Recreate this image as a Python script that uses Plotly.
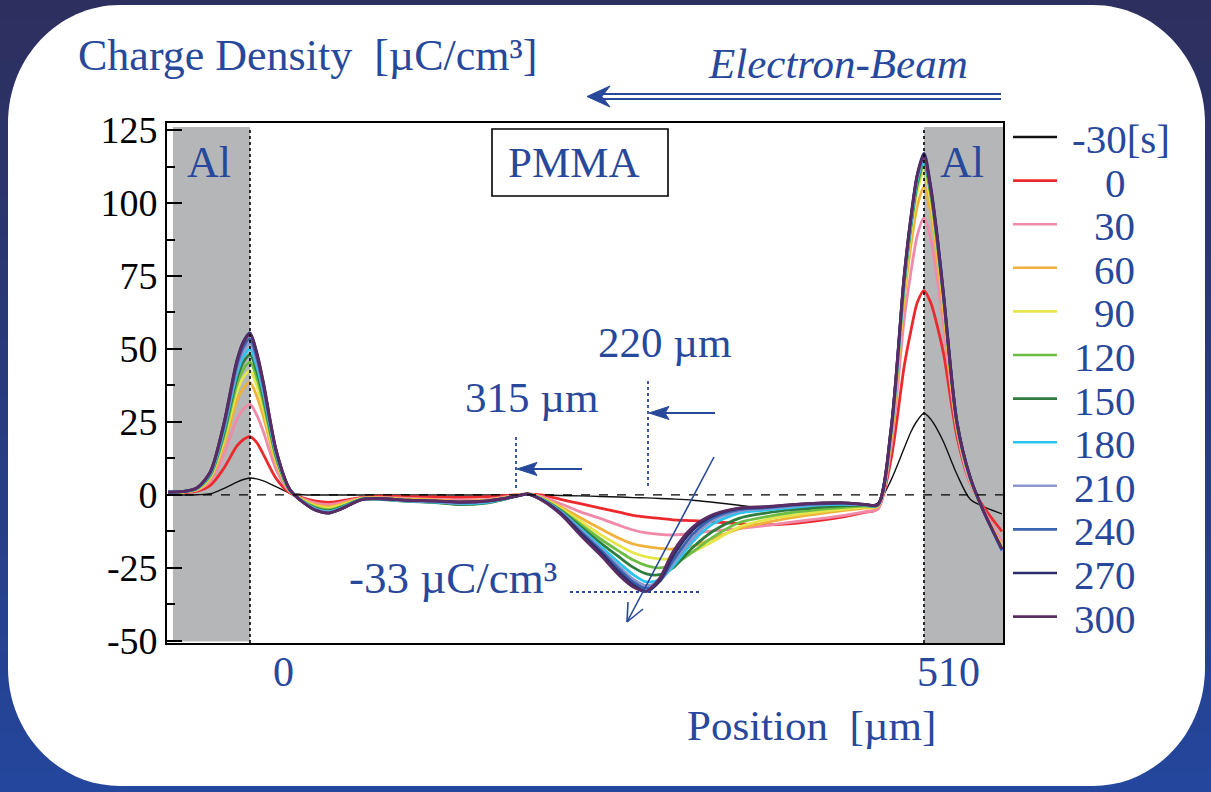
import plotly.graph_objects as go

# ---------------- data ----------------
POSITION_UM = [-62, -50, -40, -30, -20, -10, -5, 0, 5, 10, 20, 30,
               40, 50, 60, 70, 85, 100, 120, 140, 160, 180,
               200, 210, 220, 235, 250, 265, 280, 290, 300, 310,
               320, 335, 350, 370, 390, 410, 430, 450, 465, 475,
               485, 495, 500, 505, 510, 515, 520, 525, 535, 545, 555, 569]

TIME_LABELS = ["-30[s]", "0", "30", "60", "90", "120", "150", "180", "210", "240", "270", "300"]

Q_M30 = [0, 0, 0.1, 0.4, 2.2, 4.4, 5.3, 5.8, 5.5, 4.8, 2.8, 0.7,
         0.1, 0, 0, 0, 0, 0, 0, 0, 0, 0,
         0, 0.1, 0, -0.2, -0.3, -0.5, -0.7, -0.9, -1.0, -1.2,
         -1.4, -1.8, -2.5, -3.5, -4.6, -5.0, -5.0, -4.6, -4.0, -2.8,
         5, 16, 21.5, 25.5, 28, 26, 22.5, 18, 7, -1.5, -4, -6.5]
Q_0 = [0.8, 0.9, 1.3, 3.3, 9, 16.7, 19, 20, 18, 14, 5.5, 0.7,
       -1, -2.1, -2.5, -1.9, -0.8, -0.4, -0.6, -0.7, -0.8, -0.6,
       0, 0.3, 0, -1.5, -3, -4.5, -6, -7, -7.6, -8,
       -8.5, -8.8, -9.2, -9.8, -10.2, -9.8, -8.8, -7.4, -6, -4.8,
       12, 44, 56, 66, 70, 66, 58, 48, 20, 4, -4, -12.5]
Q_30 = [0.9, 1.0, 1.7, 4.7, 13.7, 25.8, 29.4, 31, 27.5, 21.8, 8.5, 1.1,
        -1.3, -2.8, -3.3, -2.5, -1.0, -0.8, -1.2, -1.5, -1.8, -1.5,
        -0.2, 0.4, -0.5, -3, -5.8, -8, -10.5, -12, -13, -13.5,
        -13.7, -13.2, -12.3, -11.5, -10.5, -9.3, -8.2, -7, -5.8, -4.8,
        16, 60, 76, 89, 95, 88, 74, 57, 22, 4, -5, -16]
Q_60 = [0.9, 1.1, 1.9, 5.7, 16.8, 32, 36.5, 38.5, 34, 27, 10.5, 1.4,
        -1.6, -3.4, -4, -3, -1.1, -1.0, -1.4, -1.7, -2.2, -1.8,
        -0.3, 0.4, -0.8, -4, -7.8, -11.5, -15, -16.8, -17.7, -18.3,
        -18.5, -17.5, -15, -11.5, -9.5, -7.8, -6.5, -5.3, -4.5, -4,
        19, 67, 85, 99, 105.5, 97, 81, 62, 23, 5, -5.5, -17.5]
Q_90 = [1.0, 1.1, 2.0, 6.2, 18.4, 35.2, 40.3, 42.5, 37.6, 29.8, 11.5, 1.5,
        -1.8, -3.8, -4.5, -3.4, -1.2, -1.2, -1.7, -2.1, -2.7, -2.2,
        -0.4, 0.4, -1, -4.5, -9, -13.5, -17.5, -19.8, -21.2, -21.9,
        -21.8, -19.5, -16, -11, -8.5, -7, -5.8, -4.8, -4.2, -3.8,
        20, 70, 89, 104, 110.5, 101, 85, 65, 24, 5, -5.5, -18]
Q_120 = [1.0, 1.1, 2.1, 6.6, 19.6, 37.7, 43.1, 45.5, 40.3, 32, 12.3, 1.6,
         -2, -4.2, -5, -3.8, -1.3, -1.5, -2.1, -2.5, -3.2, -2.6,
         -0.6, 0.3, -1.1, -5, -10, -15, -19.5, -22.3, -24.2, -25,
         -24, -19.5, -14.5, -9.5, -7.5, -6, -5, -4.2, -3.8, -3.6,
         20.5, 71.5, 91, 106, 112.5, 103, 86, 66, 24, 5.5, -5.5, -18.5]
Q_150 = [1.0, 1.2, 2.2, 6.9, 20.7, 39.7, 45.5, 48, 42.5, 33.6, 13, 1.7,
         -2.2, -4.6, -5.4, -4, -1.4, -1.6, -2.2, -2.6, -3.3, -2.7,
         -0.6, 0.3, -1.2, -5.3, -10.8, -16.3, -21.5, -24.8, -27, -27.3,
         -25, -18, -12.5, -8, -6.2, -5, -4.2, -3.7, -3.5, -3.5,
         21, 72.5, 92, 107, 114, 104, 87, 67, 24.5, 5.5, -5.5, -18.5]
Q_180 = [1.0, 1.2, 2.3, 7.2, 21.6, 41.4, 47.4, 50, 44.3, 35, 13.5, 1.8,
         -2.3, -4.8, -5.7, -4.2, -1.4, -1.5, -2.1, -2.4, -3.0, -2.5,
         -0.6, 0.3, -1.3, -5.6, -11.5, -17.5, -23.5, -27.3, -29.8, -29,
         -24.5, -16, -10, -6.2, -5.2, -4.3, -3.5, -3.2, -3.4, -3.5,
         21, 73, 92.5, 108, 114.5, 104.5, 87.5, 67, 24.5, 5.5, -5.5, -19]
Q_210 = [1.0, 1.2, 2.4, 7.5, 22.5, 43, 49.3, 52, 46, 36.5, 14, 2,
         -2.4, -5, -5.9, -4.4, -1.5, -1.4, -2.0, -2.3, -2.8, -2.3,
         -0.6, 0.3, -1.4, -5.8, -12, -18.3, -24.8, -28.8, -31, -29.5,
         -23.5, -14.8, -8.8, -5.5, -4.7, -3.9, -3.2, -3.0, -3.3, -3.4,
         21.5, 74, 93.5, 109, 115.5, 105, 88, 67.5, 24.5, 5.5, -5.5, -19]
Q_240 = [1.0, 1.2, 2.4, 7.7, 23, 44.3, 50.7, 53.5, 47.4, 37.5, 14.5, 2,
         -2.4, -5.2, -6.1, -4.5, -1.5, -1.3, -1.9, -2.1, -2.6, -2.1,
         -0.6, 0.3, -1.5, -6, -12.4, -18.8, -25.7, -29.8, -32, -29.5,
         -22.5, -13.5, -8, -5, -4.4, -3.6, -3, -2.9, -3.3, -3.4,
         22, 74.5, 94, 109.5, 116.5, 105.5, 88.5, 68, 25, 6, -5.5, -19]
Q_270 = [1.0, 1.2, 2.5, 8, 24, 46, 52.6, 55.5, 49.1, 39, 15, 2,
         -2.5, -5.3, -6.2, -4.6, -1.5, -1.3, -1.8, -2.0, -2.4, -2.0,
         -0.6, 0.4, -1.5, -6.2, -13, -19.5, -26.8, -30.8, -33, -29.5,
         -21, -12, -7.2, -4.6, -4.1, -3.3, -2.8, -2.7, -3.2, -3.3,
         22, 75, 95, 110, 117, 106, 89, 68, 25, 6, -5.5, -18.5]
Q_300 = [1.0, 1.2, 2.5, 8, 24, 45.5, 52.1, 55, 48.7, 38.5, 15, 2,
         -2.5, -5.3, -6.2, -4.6, -1.5, -1.3, -1.8, -2.0, -2.4, -2.0,
         -0.6, 0.4, -1.6, -6.6, -13.8, -20.5, -27.8, -31.5, -33, -28.5,
         -19.5, -11, -6.8, -4.5, -4.0, -3.3, -2.8, -2.7, -3.2, -3.3,
         22.5, 75, 94.5, 109.5, 116, 105, 88, 67, 24.5, 6, -5.5, -18.5]

SERIES = [Q_M30, Q_0, Q_30, Q_60, Q_90, Q_120, Q_150, Q_180, Q_210, Q_240, Q_270, Q_300]
COLORS = ["#111111", "#ec2a2e", "#f08aa8", "#f0b23a", "#e6e64a", "#6ebe45",
          "#2e7d3e", "#2bc4ee", "#8c95cc", "#3a64b0", "#2e2f6a", "#5b2c63"]
for s in SERIES:
    assert len(s) == len(POSITION_UM)

Y_TICKS = [-50, -25, 0, 25, 50, 75, 100, 125]
Y_TICK_TEXT = ["-50", "-25", "0", "25", "50", "75", "100", "125"]
Y_MINOR = [-37.5, -12.5, 12.5, 37.5, 62.5, 87.5, 112.5]
ELECTRODE_L, ELECTRODE_R = 0, 510
X_RANGE = [-62.8, 569.8]
Y_RANGE = [-50.7, 127.4]

# ---------------- geometry helpers ----------------
W, H = 1211, 792
ML, MR, MT, MB = 167, 208, 123, 149
PW, PH = W - ML - MR, H - MT - MB


def px(x):
    return (x - ML) / PW


def py(y):
    return (H - MB - y) / PH


def P(x, y):
    return "%.5f,%.5f" % (px(x), py(y))


BLUE = "#27489b"
FONT = "Liberation Serif"

fig = go.Figure()
for name, vals, col in zip(TIME_LABELS, SERIES, COLORS):
    fig.add_trace(go.Scatter(
        x=POSITION_UM, y=vals, mode="lines", name=name, showlegend=False,
        line=dict(color=col, width=1.4 if name == "-30[s]" else 2.8,
                  shape="spline", smoothing=0.8),
        hoverinfo="skip"))

shapes = []
# gradient background
N = 40
c0 = (0x2d, 0x2f, 0x5e)
c1 = (0x24, 0x46, 0x9c)
for i in range(N):
    t = i / (N - 1)
    c = tuple(int(round(a + (b - a) * t)) for a, b in zip(c0, c1))
    y0 = i * H / N
    y1 = (i + 1) * H / N + 1
    shapes.append(dict(type="rect", xref="paper", yref="paper", layer="below",
                       x0=px(-2), x1=px(W + 2), y0=py(y0), y1=py(y1),
                       line=dict(width=0), fillcolor="rgb(%d,%d,%d)" % c))

# white rounded panel
L, R, T, B = 8, 1205, 5, 786
rx, ry = 112, 118
k = 0.5523
path = ("M " + P(L + rx, T) + " L " + P(R - rx, T) +
        " C " + P(R - rx + k * rx, T) + " " + P(R, T + ry - k * ry) + " " + P(R, T + ry) +
        " L " + P(R, B - ry) +
        " C " + P(R, B - ry + k * ry) + " " + P(R - rx + k * rx, B) + " " + P(R - rx, B) +
        " L " + P(L + rx, B) +
        " C " + P(L + rx - k * rx, B) + " " + P(L, B - ry + k * ry) + " " + P(L, B - ry) +
        " L " + P(L, T + ry) +
        " C " + P(L, T + ry - k * ry) + " " + P(L + rx - k * rx, T) + " " + P(L + rx, T) + " Z")
shapes.append(dict(type="path", path=path, xref="paper", yref="paper", layer="below",
                   fillcolor="white", line=dict(width=0)))

# aluminium electrodes (grey)
shapes.append(dict(type="rect", xref="x", yref="y", layer="below",
                   x0=-58.3, x1=ELECTRODE_L, y0=-50.2, y1=126.0,
                   fillcolor="#b5b6b8", line=dict(width=0)))
shapes.append(dict(type="rect", xref="x", yref="y", layer="below",
                   x0=ELECTRODE_R, x1=X_RANGE[1], y0=Y_RANGE[0], y1=126.0,
                   fillcolor="#b5b6b8", line=dict(width=0)))
# electrode boundaries
for xv in (ELECTRODE_L, ELECTRODE_R):
    shapes.append(dict(type="line", xref="x", yref="paper", layer="above",
                       x0=xv, x1=xv, y0=0, y1=py(127),
                       line=dict(color="black", width=1.6, dash="dot")))
# zero line
shapes.append(dict(type="line", xref="paper", yref="y", layer="above",
                   x0=0, x1=1, y0=0, y1=0,
                   line=dict(color="black", width=1.3, dash="dash")))

# PMMA box
shapes.append(dict(type="rect", xref="paper", yref="paper", layer="above",
                   x0=px(492), x1=px(668), y0=py(196), y1=py(129),
                   fillcolor="white", line=dict(color="black", width=1.6)))

# dotted blue guides
for (x0, y0, x1, y1) in [(516, 437, 516, 488), (648, 381, 648, 489), (570, 592, 702, 592)]:
    shapes.append(dict(type="line", xref="paper", yref="paper", layer="above",
                       x0=px(x0), x1=px(x1), y0=py(y0), y1=py(y1),
                       line=dict(color=BLUE, width=1.8, dash="dot")))


def seg(x0, y0, x1, y1, w=1.6):
    shapes.append(dict(type="line", xref="paper", yref="paper", layer="above",
                       x0=px(x0), x1=px(x1), y0=py(y0), y1=py(y1),
                       line=dict(color=BLUE, width=w)))


# horizontal arrows with filled heads (315 um, 220 um)
for (tipx, tipy, tailx) in [(517, 469, 582), (649, 413, 715)]:
    seg(tipx + 14, tipy, tailx, tipy, 1.8)
    shapes.append(dict(type="path", xref="paper", yref="paper", layer="above",
                       path="M " + P(tipx, tipy) + " L " + P(tipx + 20, tipy - 6.5) +
                            " L " + P(tipx + 16, tipy) + " L " + P(tipx + 20, tipy + 6.5) + " Z",
                       fillcolor=BLUE, line=dict(color=BLUE, width=1)))

# diagonal arrow with open V head
seg(627, 622, 714, 457, 1.6)
seg(627, 622, 643, 609, 1.6)
seg(627, 622, 628, 602, 1.6)

# electron beam double arrow
for yy in (94, 99):
    seg(600, yy, 1001, yy, 2.2)
shapes.append(dict(type="path", xref="paper", yref="paper", layer="above",
                   path="M " + P(587, 96.5) + " L " + P(610, 86) + " L " + P(602, 96.5) +
                        " L " + P(610, 107) + " Z",
                   fillcolor=BLUE, line=dict(color=BLUE, width=1)))

# manual legend
LEG_LEFT = [1070, 1103, 1092, 1092, 1092, 1072, 1072, 1072, 1072, 1072, 1072, 1072]
annotations = []
for i, (name, col) in enumerate(zip(TIME_LABELS, COLORS)):
    yc = 137 + i * 43.6
    shapes.append(dict(type="line", xref="paper", yref="paper", layer="above",
                       x0=px(1013), x1=px(1057), y0=py(yc), y1=py(yc),
                       line=dict(color=col, width=2.6)))
    annotations.append(dict(xref="paper", yref="paper", x=px(LEG_LEFT[i]), y=py(yc + 2),
                            xanchor="left", yanchor="middle", showarrow=False,
                            text=name, font=dict(family=FONT, size=41, color=BLUE)))


def txt(text, x, y, size, xanchor="center", italic=False, color=BLUE):
    annotations.append(dict(xref="paper", yref="paper", x=px(x), y=py(y),
                            xanchor=xanchor, yanchor="middle", showarrow=False,
                            text=("<i>%s</i>" % text) if italic else text,
                            font=dict(family=FONT, size=size, color=color)))


txt("Charge Density  [µC/cm³]", 76, 55, 44, xanchor="left")
txt("Electron-Beam", 838, 64, 43, italic=True)
txt("Al", 209, 163, 44)
txt("Al", 962, 163, 44)
txt("PMMA", 573, 163, 43)
txt("220 µm", 664, 342, 43)
txt("315 µm", 531, 397, 43)
txt("-33 µC/cm³", 453, 578, 45)
txt("0", 283, 672, 42)
txt("510", 948, 672, 42)
txt("Position  [µm]", 685, 726, 43, xanchor="left")

fig.update_layout(
    width=W, height=H,
    margin=dict(l=ML, r=MR, t=MT, b=MB, pad=0),
    paper_bgcolor="#2a3a7c",
    plot_bgcolor="rgba(0,0,0,0)",
    showlegend=False,
    shapes=shapes,
    annotations=annotations,
    font=dict(family=FONT, color="black"),
    xaxis=dict(range=X_RANGE, showgrid=False, zeroline=False, showticklabels=False,
               ticks="", showline=True, linecolor="black", linewidth=1.6, mirror=True),
    yaxis=dict(range=Y_RANGE, showgrid=False, zeroline=False,
               tickvals=Y_TICKS, ticktext=Y_TICK_TEXT,
               ticks="inside", ticklen=15, tickwidth=1.5, tickcolor="black",
               minor=dict(ticks="inside", ticklen=8, tickwidth=1.5, tickcolor="black",
                          tickvals=Y_MINOR),
               tickfont=dict(family=FONT, size=38, color="black"),
               showline=True, linecolor="black", linewidth=1.6, mirror=True),
)

fig.write_html("out.html", config={"displayModeBar": False},
               post_script="document.body.style.margin='0px';")
